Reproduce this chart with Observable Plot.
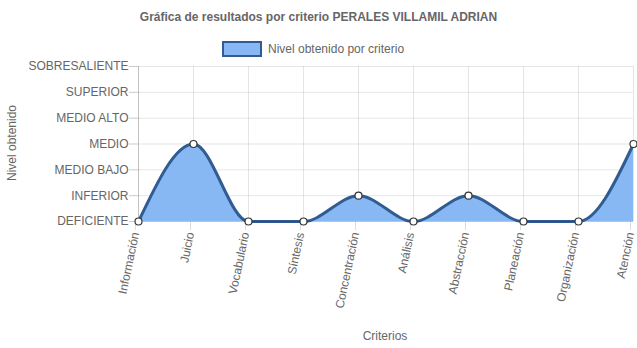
<!DOCTYPE html>
<html>
<head>
<meta charset="utf-8">
<script src="https://cdn.jsdelivr.net/npm/d3@7"></script>
<script src="https://cdn.jsdelivr.net/npm/@observablehq/plot@0.6"></script>
<style>
  body { margin: 0; background: #fff; font-family: "Liberation Sans", Arial, Helvetica, sans-serif; }
  #wrap { position: relative; width: 637px; height: 348px; }
  #title { position: absolute; left: 0; width: 637px; top: 10px; text-align: center; font-size: 12px; font-weight: bold; color: #666; }
  #legend { position: absolute; top: 41px; left: 222px; display: flex; align-items: center; font-size: 12px; color: #666; }
  #legend .box { width: 36px; height: 12px; background: #88b8f3; border: 2px solid #305c91; margin-right: 6px; }
  #ylabel { position: absolute; left: 5px; top: 143px; font-size: 12px; color: #666; transform: translate(0, -50%) rotate(180deg); writing-mode: vertical-rl; white-space: nowrap; }
  #xlabel { position: absolute; left: 385px; top: 329px; font-size: 12px; color: #666; transform: translateX(-50%); white-space: nowrap; }
  #chart { position: absolute; left: 0; top: 0; }
</style>
</head>
<body>
<div id="wrap">
  <div id="chart"></div>
  <div id="title">Gráfica de resultados por criterio PERALES VILLAMIL ADRIAN</div>
  <div id="legend"><div class="box"></div><span>Nivel obtenido por criterio</span></div>
  <div id="ylabel">Nivel obtenido</div>
  <div id="xlabel">Criterios</div>
</div>
<script>
const criterios = ["Información","Juicio","Vocabulario","Síntesis","Concentración","Análisis","Abstracción","Planeación","Organización","Atención"];
const niveles = ["DEFICIENTE","INFERIOR","MEDIO BAJO","MEDIO","MEDIO ALTO","SUPERIOR","SOBRESALIENTE"];
const valores = [0,3,0,0,1,0,1,0,0,3];

const data = criterios.map((c, i) => ({criterio: c, valor: valores[i]}));
const fillColor = "#88b8f3";
const lineColor = "#305c91";

const chart = Plot.plot({
  width: 637,
  height: 348,
  marginLeft: 138,
  marginRight: 4,
  marginTop: 66,
  marginBottom: 127,
  style: {fontFamily: "Liberation Sans, Arial, sans-serif", fontSize: "12px", color: "#666", background: "transparent"},
  x: {type: "point", domain: criterios, padding: 0, round: false, label: null},
  y: {domain: [0, 6], label: null},
  marks: [
    Plot.gridX(criterios, {stroke: "#000", strokeOpacity: 0.1, y1: 0, y2: 6}),
    Plot.gridY(d3.range(0, 7), {stroke: "#000", strokeOpacity: 0.1}),
    Plot.areaY(data, {x: "criterio", y: "valor", curve: "monotone-x", fill: fillColor}),
    Plot.lineY(data, {x: "criterio", y: "valor", curve: "monotone-x", stroke: lineColor, strokeWidth: 3}),
    Plot.axisY(d3.range(0, 7), {tickFormat: i => niveles[i], tickSize: 9, tickPadding: 1, stroke: "#ccc", fill: "#666", label: null, fontSize: 12}),
    Plot.axisX(criterios, {tickRotate: -78, tickSize: 9, tickPadding: 2, dx: -3, stroke: "#ddd", fill: "#666", label: null, fontSize: 12}),
    Plot.ruleY([0], {stroke: "#000", strokeOpacity: 0.15}),
    Plot.ruleX([criterios[0]], {stroke: "#000", strokeOpacity: 0.15, y1: 0, y2: 6}),
    Plot.dot(data, {x: "criterio", y: "valor", r: 3.5, fill: "#fff", stroke: "#333", strokeWidth: 1.2})
  ]
});
document.getElementById("chart").appendChild(chart);
</script>
</body>
</html>
